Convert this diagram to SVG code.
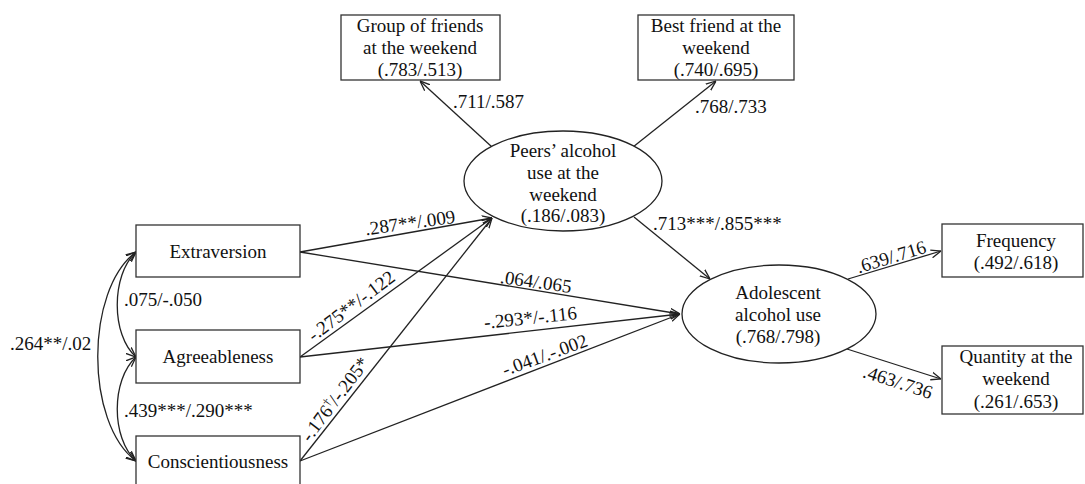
<svg xmlns="http://www.w3.org/2000/svg" width="1085" height="484" viewBox="0 0 1085 484">
<style>
text{font-family:"Liberation Serif","Times New Roman",serif;font-size:19px;fill:#111}
.c{text-anchor:middle}
.box{fill:#fff;stroke:#333;stroke-width:1.3}
.ell{fill:#fff;stroke:#222;stroke-width:1.3}
.ln{fill:none;stroke:#222;stroke-width:1.3;marker-end:url(#ah)}
.cv{fill:none;stroke:#222;stroke-width:1.3;marker-start:url(#ah);marker-end:url(#ah)}
</style>
<defs>
<marker id="ah" viewBox="0 0 10 10" refX="10" refY="5" markerWidth="10" markerHeight="10" markerUnits="userSpaceOnUse" orient="auto-start-reverse">
<path d="M0,1 L10,5 L0,9" fill="none" stroke="#222" stroke-width="1.3"/>
</marker>
</defs>
<rect width="1085" height="484" fill="#fff"/>
<g id="connectors">
<path class="cv" d="M136,252 C111,275 111,335 136,357"/>
<path class="cv" d="M136,357 C111,380 111,438 136,461"/>
<path class="cv" d="M136,252 C85,290 85,423 136,461"/>
<line class="ln" x1="300" y1="252" x2="492" y2="218"/>
<line class="ln" x1="300" y1="357" x2="492" y2="218"/>
<line class="ln" x1="300" y1="461" x2="492" y2="218"/>
<line class="ln" x1="300" y1="252" x2="680" y2="314"/>
<line class="ln" x1="300" y1="357" x2="680" y2="314"/>
<line class="ln" x1="300" y1="461" x2="680" y2="314"/>
<line class="ln" x1="492" y1="147" x2="420" y2="81"/>
<line class="ln" x1="633" y1="147" x2="716" y2="81"/>
<line class="ln" x1="634" y1="217" x2="710" y2="279"/>
<line class="ln" x1="848" y1="279" x2="941" y2="251"/>
<line class="ln" x1="847" y1="349" x2="941" y2="379"/>
<text x="10" y="350">.264**/.02</text>
<text x="124" y="306">.075/-.050</text>
<text x="124" y="417">.439***/.290***</text>
<text class="c" x="411" y="229" transform="rotate(-8 411 229)">.287**/.009</text>
<text class="c" x="355" y="311" transform="rotate(-37 355 311)">-.275**/-.122</text>
<text class="c" x="340" y="403" transform="rotate(-53 340 403)">-.176<tspan font-size="12" dy="-7">†</tspan><tspan dy="7">/-.205*</tspan></text>
<text class="c" x="535" y="288" transform="rotate(8 535 288)">.064/.065</text>
<text class="c" x="531" y="324" transform="rotate(-6 531 324)">-.293*/-.116</text>
<text class="c" x="547" y="361" transform="rotate(-20 547 361)">-.041/.-.002</text>
<text x="453" y="108">.711/.587</text>
<text x="695" y="113">.768/.733</text>
<text x="653" y="230">.713***/.855***</text>
<text class="c" x="893" y="263" transform="rotate(-17 893 263)">.639/.716</text>
<text class="c" x="896" y="388" transform="rotate(18 896 388)">.463/.736</text>
</g>
<g id="extraversion">
<rect class="box" x="136" y="225" width="164" height="52"/>
<text class="c" x="218" y="258">Extraversion</text>
</g>
<g id="agreeableness">
<rect class="box" x="136" y="330" width="164" height="53"/>
<text class="c" x="218" y="363">Agreeableness</text>
</g>
<g id="conscientiousness">
<rect class="box" x="136" y="436" width="164" height="56"/>
<text class="c" x="218" y="468">Conscientiousness</text>
</g>
<g id="group-friends">
<rect class="box" x="341" y="15" width="159" height="65"/>
<text class="c" x="420" y="32">Group of friends</text>
<text class="c" x="420" y="54">at the weekend</text>
<text class="c" x="420" y="76">(.783/.513)</text>
</g>
<g id="best-friend">
<rect class="box" x="638" y="15" width="156" height="65"/>
<text class="c" x="716" y="32">Best friend at the</text>
<text class="c" x="716" y="54">weekend</text>
<text class="c" x="716" y="76">(.740/.695)</text>
</g>
<g id="peers">
<ellipse class="ell" cx="563" cy="181" rx="99" ry="50"/>
<text class="c" x="563" y="157">Peers’ alcohol</text>
<text class="c" x="563" y="179">use at the</text>
<text class="c" x="563" y="201">weekend</text>
<text class="c" x="563" y="222">(.186/.083)</text>
</g>
<g id="adolescent">
<ellipse class="ell" cx="779" cy="314" rx="97" ry="49"/>
<text class="c" x="778" y="299">Adolescent</text>
<text class="c" x="778" y="321">alcohol use</text>
<text class="c" x="778" y="343">(.768/.798)</text>
</g>
<g id="frequency">
<rect class="box" x="942" y="224" width="141" height="53"/>
<text class="c" x="1016" y="247">Frequency</text>
<text class="c" x="1016" y="269">(.492/.618)</text>
</g>
<g id="quantity">
<rect class="box" x="942" y="346" width="141" height="68"/>
<text class="c" x="1016" y="363">Quantity at the</text>
<text class="c" x="1016" y="385">weekend</text>
<text class="c" x="1016" y="408">(.261/.653)</text>
</g>
</svg>
